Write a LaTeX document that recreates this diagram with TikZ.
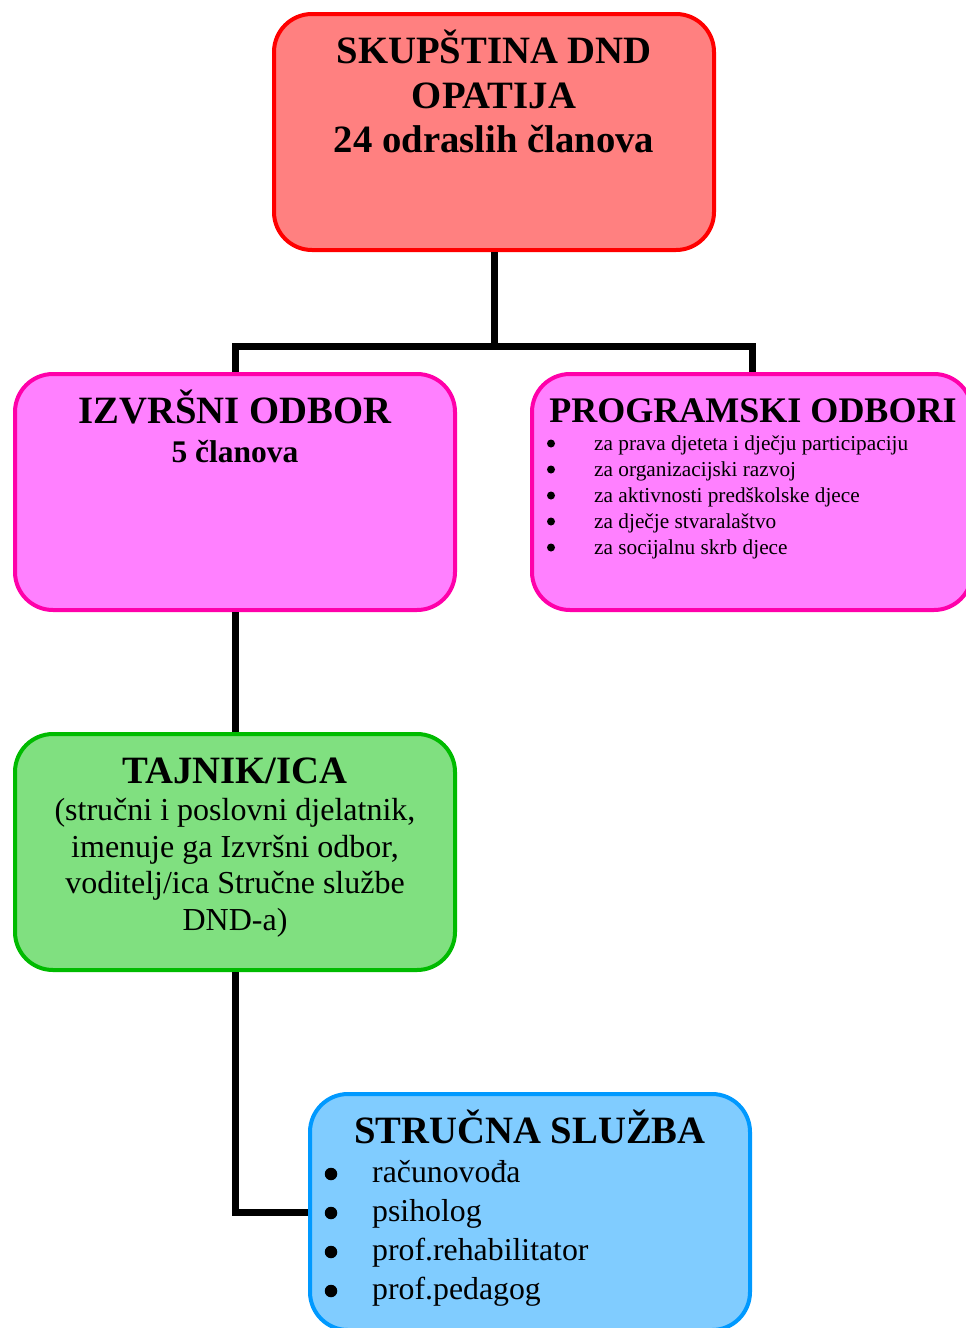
\documentclass[tikz,border=0pt]{standalone}
\usepackage{fontspec}
\setmainfont{Liberation Serif}
\definecolor{redfill}{HTML}{FF8080}
\definecolor{redline}{HTML}{FF0000}
\definecolor{pinkfill}{HTML}{FF80FF}
\definecolor{pinkline}{HTML}{FF00AA}
\definecolor{greenfill}{HTML}{80E080}
\definecolor{greenline}{HTML}{00BB00}
\definecolor{bluefill}{HTML}{80CCFF}
\definecolor{blueline}{HTML}{0099FF}
\tikzset{
  box/.style={rectangle, rounded corners=38pt, line width=4pt, minimum width=440pt, minimum height=236pt, inner sep=0pt},
  conn/.style={line width=7pt, black, line join=miter},
  head/.style={anchor=base, inner sep=0pt, font=\fontsize{38.7}{45}\selectfont\bfseries},
  sub/.style={anchor=base, inner sep=0pt, font=\fontsize{31.5}{34}\selectfont\bfseries},
  body/.style={anchor=base, inner sep=0pt, font=\fontsize{32}{37}\selectfont},
  smallitem/.style={anchor=base west, inner sep=0pt, font=\fontsize{21.3}{26}\selectfont},
  bigitem/.style={anchor=base west, inner sep=0pt, font=\fontsize{31.8}{39}\selectfont},
  smallbul/.style={circle, fill=black, inner sep=0pt, minimum size=8pt},
  bigbul/.style={circle, fill=black, inner sep=0pt, minimum size=12.5pt},
}
\begin{document}
\begin{tikzpicture}[x=1pt, y=-1pt]
\clip (0,0) rectangle (966,1328);
\useasboundingbox (0,0) rectangle (966,1328);
% boxes
\node[box, fill=redfill, draw=redline] (top) at (494,132) {};
\node[box, fill=pinkfill, draw=pinkline] (izv) at (235,492) {};
\node[box, fill=pinkfill, draw=pinkline] (prog) at (752,492) {};
\node[box, fill=greenfill, draw=greenline] (taj) at (235,852) {};
\node[box, fill=bluefill, draw=blueline] (str) at (530,1212) {};
% connectors
\coordinate (j) at (494,346);
\draw[conn] (top.south) -- (j);
\draw[conn] (izv.north) |- (j) -| (prog.north);
\draw[conn] (izv.south) -- (taj.north);
\draw[conn] (taj.south) |- (str.west);
% top text
\node[head] (t1) at (494,63) {SKUPŠTINA DND};
\node[head] (t2) at (494,108) {OPATIJA};
\node[head] (t3) at (494,152) {24 odraslih članova};
% izvrsni
\node[head] (i1) at (235,423) {IZVRŠNI ODBOR};
\node[sub] (i2) at (235,462) {5 članova};
% programski
\node[head, font=\fontsize{36}{45}\selectfont\bfseries] (p0) at (753,422) {PROGRAMSKI ODBORI};
\foreach \y/\t [count=\k] in {450/za prava djeteta i dječju participaciju, 476/za organizacijski razvoj, 502/za aktivnosti predškolske djece, 528/za dječje stvaralaštvo, 554/za socijalnu skrb djece}{
  \node[smallbul] (pb\k) at (551,\y-6.5) {};
  \node[smallitem] (pi\k) at (594,\y) {\t};
}
% tajnik
\node[head] (a0) at (235,783) {TAJNIK/ICA};
\node[body] (a1) at (235,820) {(stručni i poslovni djelatnik,};
\node[body] (a2) at (235,857) {imenuje ga Izvršni odbor,};
\node[body] (a3) at (235,893) {voditelj/ica Stručne službe};
\node[body] (a4) at (235,930) {DND-a)};
% strucna
\node[head] (s0) at (530,1143) {STRUČNA SLUŽBA};
\foreach \y/\t [count=\k] in {1182/računovođa, 1221/psiholog, 1260/prof.rehabilitator, 1299/prof.pedagog}{
  \node[bigbul] (sb\k) at (331,\y-8) {};
  \node[bigitem] (si\k) at (372,\y) {\t};
}
\end{tikzpicture}
\end{document}
